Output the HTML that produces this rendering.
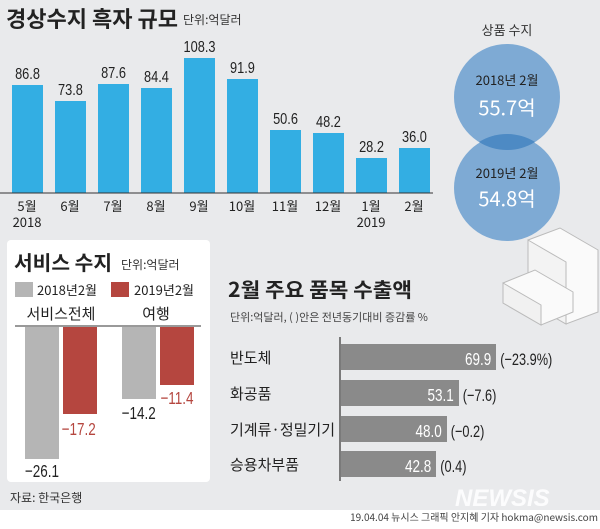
<!DOCTYPE html>
<html><head><meta charset="utf-8"><style>
body{margin:0}
</style></head><body>
<svg width="600" height="524" xmlns="http://www.w3.org/2000/svg" font-family="Liberation Sans, Noto Sans CJK KR, sans-serif">
<rect width="600" height="524" fill="#e9eaec"/>
<rect y="510" width="600" height="14" fill="#ffffff"/>
<!-- top title -->
<text x="6" y="27" font-size="22" font-weight="bold" fill="#222" font-family="Noto Sans CJK KR, sans-serif" textLength="172" lengthAdjust="spacingAndGlyphs">경상수지 흑자 규모</text>
<text x="183" y="24" font-size="12" fill="#333" font-family="Noto Sans CJK KR, sans-serif">단위:억달러</text>
<!-- top bars -->
<g fill="#33aee3">
<rect x="12" y="85" width="31" height="108"/>
<rect x="55" y="101" width="31" height="92"/>
<rect x="98" y="84" width="31" height="109"/>
<rect x="141" y="88" width="31" height="105"/>
<rect x="184" y="58" width="31" height="135"/>
<rect x="227" y="79" width="31" height="114"/>
<rect x="270" y="130" width="31" height="63"/>
<rect x="313" y="133" width="31" height="60"/>
<rect x="356" y="158" width="31" height="35"/>
<rect x="399" y="148" width="31" height="45"/>
</g>
<line x1="0" y1="193" x2="433" y2="193" stroke="#333" stroke-width="1"/>
<g font-size="16" fill="#222" text-anchor="middle" transform="scale(0.8,1)">
<text x="34.4" y="79">86.8</text>
<text x="88.1" y="95">73.8</text>
<text x="141.9" y="78">87.6</text>
<text x="195.6" y="82">84.4</text>
<text x="249.4" y="52">108.3</text>
<text x="303.1" y="73">91.9</text>
<text x="356.9" y="124">50.6</text>
<text x="410.6" y="127">48.2</text>
<text x="464.4" y="152">28.2</text>
<text x="518.1" y="142">36.0</text>
</g>
<g font-size="13" fill="#222" text-anchor="middle" font-family="Noto Sans CJK KR, sans-serif">
<text x="27" y="211">5월</text><text x="27" y="227">2018</text>
<text x="70" y="211">6월</text>
<text x="113" y="211">7월</text>
<text x="156" y="211">8월</text>
<text x="199" y="211">9월</text>
<text x="242" y="211">10월</text>
<text x="285" y="211">11월</text>
<text x="328" y="211">12월</text>
<text x="371" y="211">1월</text><text x="371" y="227">2019</text>
<text x="414" y="211">2월</text>
</g>
<!-- circles -->
<text x="507" y="35" font-size="13" fill="#333" text-anchor="middle" font-family="Noto Sans CJK KR, sans-serif">상품 수지</text>
<circle cx="507" cy="97" r="53" fill="#7eaad4"/>
<circle cx="507" cy="188" r="53" fill="#7eaad4"/>
<path d="M479,142 A53,53 0 0 0 535,142 A53,53 0 0 0 479,142 Z" fill="#4d8ac4"/>
<text x="507" y="85" font-size="13" fill="#222" text-anchor="middle" font-family="Noto Sans CJK KR, sans-serif">2018년 2월</text>
<text x="507" y="115" font-size="20" fill="#fff" text-anchor="middle" font-family="Noto Sans CJK KR, sans-serif">55.7억</text>
<text x="507" y="178" font-size="13" fill="#222" text-anchor="middle" font-family="Noto Sans CJK KR, sans-serif">2019년 2월</text>
<text x="507" y="206" font-size="20" fill="#fff" text-anchor="middle" font-family="Noto Sans CJK KR, sans-serif">54.8억</text>
<!-- money boxes -->
<g stroke="#bbb" stroke-width="1" fill="#fafafa">
<polygon points="528,240 560,228 598,250 598,312 566,324 528,302"/>
<polygon points="528,240 566,262 566,324 528,302" fill="#f3f3f3"/>
<polygon points="503,283 535,270 573,292 573,312 541,325 503,303"/>
<polygon points="503,283 541,305 541,325 503,303" fill="#f1f1f1"/>
</g>
<!-- services panel -->
<rect x="7" y="240" width="203" height="242" rx="4" fill="#fff"/>
<text x="14" y="270" font-size="20" font-weight="bold" fill="#222" font-family="Noto Sans CJK KR, sans-serif" textLength="98" lengthAdjust="spacingAndGlyphs">서비스 수지</text>
<text x="121" y="269" font-size="12" fill="#333" font-family="Noto Sans CJK KR, sans-serif">단위:억달러</text>
<rect x="15" y="282" width="18" height="15" fill="#b5b5b5"/>
<text x="37" y="295" font-size="13" fill="#222" font-family="Noto Sans CJK KR, sans-serif">2018년2월</text>
<rect x="111" y="282" width="18" height="15" fill="#b5463f"/>
<text x="134" y="295" font-size="13" fill="#222" font-family="Noto Sans CJK KR, sans-serif">2019년2월</text>
<text x="61" y="319" font-size="15" fill="#222" text-anchor="middle" font-family="Noto Sans CJK KR, sans-serif">서비스전체</text>
<text x="156" y="319" font-size="15" fill="#222" text-anchor="middle" font-family="Noto Sans CJK KR, sans-serif">여행</text>
<line x1="15" y1="326" x2="201" y2="326" stroke="#333"/>
<rect x="25" y="327" width="34" height="132" fill="#b5b5b5"/>
<rect x="63" y="327" width="34" height="87" fill="#b5463f"/>
<rect x="122" y="327" width="34" height="72" fill="#b5b5b5"/>
<rect x="160" y="327" width="34" height="58" fill="#b5463f"/>
<g font-size="18" text-anchor="middle" transform="scale(0.75,1)">
<text x="56" y="477" fill="#222">−26.1</text>
<text x="105" y="435" fill="#b5463f">−17.2</text>
<text x="185" y="419" fill="#222">−14.2</text>
<text x="236" y="404" fill="#b5463f">−11.4</text>
</g>
<text x="10" y="502" font-size="12" fill="#333" font-family="Noto Sans CJK KR, sans-serif">자료: 한국은행</text>
<!-- exports -->
<text x="228" y="297" font-size="20" font-weight="bold" fill="#222" font-family="Noto Sans CJK KR, sans-serif" textLength="184" lengthAdjust="spacingAndGlyphs">2월 주요 품목 수출액</text>
<text x="230" y="321" font-size="11" fill="#444" font-family="Noto Sans CJK KR, sans-serif">단위:억달러, ( )안은 전년동기대비 증감률 %</text>
<line x1="340" y1="337" x2="340" y2="481" stroke="#555" stroke-width="1.5"/>
<g fill="#8a8a8a">
<rect x="341" y="344" width="155" height="26"/>
<rect x="341" y="380" width="118" height="26"/>
<rect x="341" y="416" width="106" height="26"/>
<rect x="341" y="451" width="95" height="26"/>
</g>
<g font-size="15" fill="#222" font-family="Noto Sans CJK KR, sans-serif">
<text x="230" y="363">반도체</text>
<text x="230" y="399">화공품</text>
<text x="230" y="435">기계류·정밀기기</text>
<text x="230" y="470">승용차부품</text>
</g>
<g font-size="18" fill="#fff" text-anchor="end" transform="scale(0.75,1)">
<text x="655" y="365">69.9</text>
<text x="605" y="401">53.1</text>
<text x="589" y="437">48.0</text>
<text x="575" y="472">42.8</text>
</g>
<g font-size="17" fill="#222" transform="scale(0.75,1)">
<text x="667" y="365">(−23.9%)</text>
<text x="617" y="401">(−7.6)</text>
<text x="601" y="437">(−0.2)</text>
<text x="587" y="472">(0.4)</text>
</g>
<text x="455" y="506" font-size="24" font-weight="bold" font-style="italic" fill="#fff" opacity="0.9">NEWSIS</text>
<text x="598" y="521" font-size="10" fill="#444" text-anchor="end" font-family="Noto Sans CJK KR, sans-serif">19.04.04 뉴시스 그래픽 안지혜 기자 hokma@newsis.com</text>
</svg>
</body></html>
